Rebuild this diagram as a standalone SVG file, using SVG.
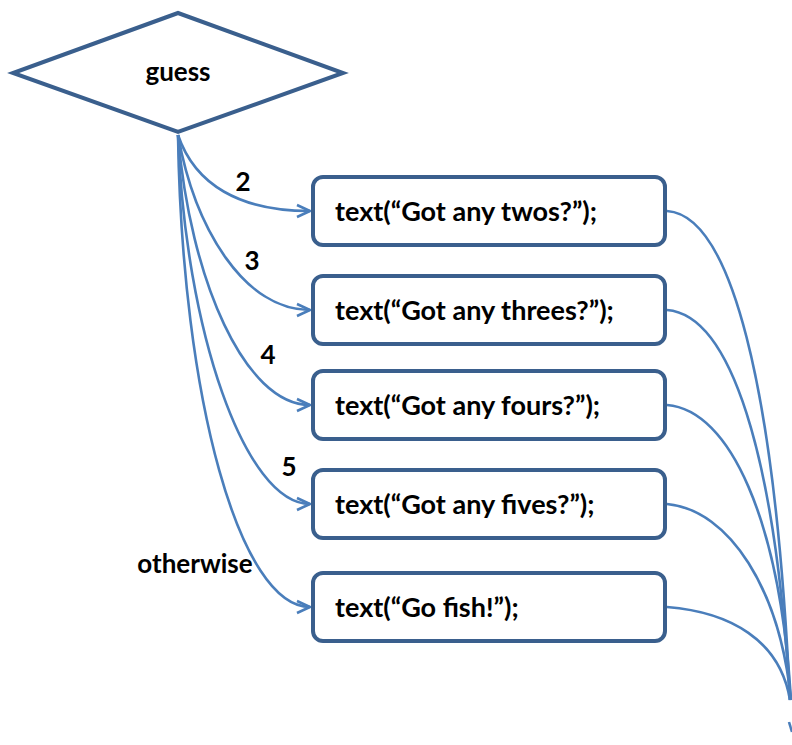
<svg xmlns="http://www.w3.org/2000/svg" width="792" height="745" viewBox="0 0 792 745">
<style>
.node{fill:#fff;stroke:#3A5F8D;stroke-width:4;}
.lbl{font-family:Lato,"Liberation Sans",sans-serif;font-weight:bold;font-size:26px;fill:#000;}
.btxt{font-family:Lato,"Liberation Sans",sans-serif;font-weight:bold;font-size:27px;fill:#000;}
.conn{fill:none;stroke:#4A7EBB;stroke-width:2.6;}
</style>
<defs>
<marker id="arr" viewBox="0 0 16 16" refX="15" refY="8" markerWidth="16" markerHeight="16" markerUnits="userSpaceOnUse" orient="auto">
<path d="M2,2 L15,8 L2,14" fill="none" stroke="#4A7EBB" stroke-width="2.6"/>
</marker>
</defs>
<g id="connectors">
<path class="conn" marker-end="url(#arr)" d="M178,135 C195,185 240,211 310,211"/>
<path class="conn" marker-end="url(#arr)" d="M178,135 C195,230 245,310 310,310"/>
<path class="conn" marker-end="url(#arr)" d="M178,135 C190,280 245,405 310,405"/>
<path class="conn" marker-end="url(#arr)" d="M178,135 C185,330 245,504 310,504"/>
<path class="conn" marker-end="url(#arr)" d="M178,135 C182,400 240,607 310,607"/>
<path class="conn" d="M667,211 C730,215 775,380 790,700"/>
<path class="conn" d="M667,310 C730,315 775,450 790,700"/>
<path class="conn" d="M667,405 C730,410 780,520 791,700"/>
<path class="conn" d="M667,504 C730,510 780,590 791,700"/>
<path class="conn" d="M667,607 C730,612 780,640 790,700"/>
<path class="conn" d="M789,722 L792,732"/>
<text class="lbl" x="243" y="191" text-anchor="middle">2</text>
<text class="lbl" x="252" y="270" text-anchor="middle">3</text>
<text class="lbl" x="268" y="364" text-anchor="middle">4</text>
<text class="lbl" x="289" y="476" text-anchor="middle">5</text>
<text class="lbl" x="195" y="573" text-anchor="middle">otherwise</text>
</g>
<g id="guess">
<polygon class="node" points="178,13 343,73 178,132 13,73"/>
<text class="lbl" x="178" y="81" text-anchor="middle">guess</text>
</g>
<g id="twos">
<rect class="node" x="313" y="177" width="352" height="68" rx="10"/>
<text class="btxt" x="335" y="221">text(“Got any twos?”);</text>
</g>
<g id="threes">
<rect class="node" x="313" y="276" width="352" height="68" rx="10"/>
<text class="btxt" x="335" y="320">text(“Got any threes?”);</text>
</g>
<g id="fours">
<rect class="node" x="313" y="371" width="352" height="68" rx="10"/>
<text class="btxt" x="335" y="415">text(“Got any fours?”);</text>
</g>
<g id="fives">
<rect class="node" x="313" y="470" width="352" height="68" rx="10"/>
<text class="btxt" x="335" y="514">text(“Got any fives?”);</text>
</g>
<g id="gofish">
<rect class="node" x="313" y="573" width="352" height="68" rx="10"/>
<text class="btxt" x="335" y="617">text(“Go fish!”);</text>
</g>
</svg>
